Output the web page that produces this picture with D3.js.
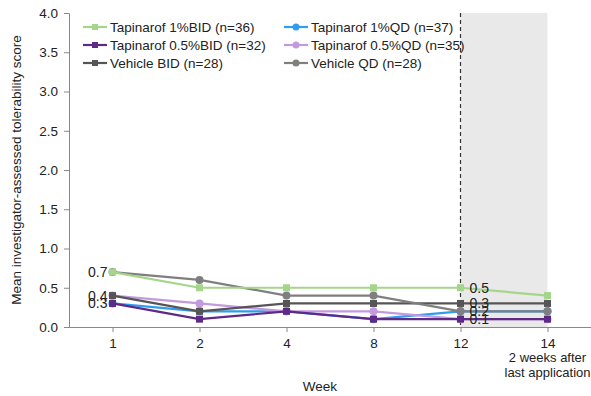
<!DOCTYPE html>
<html>
<head>
<meta charset="utf-8">
<script src="https://cdn.jsdelivr.net/npm/d3@7"></script>
<style>
  body { margin: 0; background: #fff; }
  text { font-family: "Liberation Sans", Arial, sans-serif; fill: #222; }
</style>
</head>
<body>
<div id="chart"></div>
<script>
// data
const weeks = ['1', '2', '4', '8', '12', '14'];
const seriesNames = ['Tapinarof 1%BID (n=36)', 'Tapinarof 1%QD (n=37)', 'Tapinarof 0.5%BID (n=32)',
  'Tapinarof 0.5%QD (n=35)', 'Vehicle BID (n=28)', 'Vehicle QD (n=28)'];
const tap1Bid = [0.7, 0.5, 0.5, 0.5, 0.5, 0.4];
const tap1Qd = [0.3, 0.2, 0.2, 0.1, 0.2, 0.2];
const tap05Bid = [0.3, 0.1, 0.2, 0.1, 0.1, 0.1];
const tap05Qd = [0.4, 0.3, 0.2, 0.2, 0.1, 0.1];
const vehBid = [0.4, 0.2, 0.3, 0.3, 0.3, 0.3];
const vehQd = [0.7, 0.6, 0.4, 0.4, 0.2, 0.2];
const yTicks = [0, 0.5, 1, 1.5, 2, 2.5, 3, 3.5, 4];
const leftLabels = [0.7, 0.4, 0.3];
const rightLabels = [0.5, 0.3, 0.2, 0.1];

const colors = ['#a5d58a', '#2f9cf0', '#5e2a86', '#c49ade', '#555555', '#7f7f7f'];
const shapes = ['square', 'circle', 'square', 'circle', 'square', 'circle'];
const values = [tap1Bid, tap1Qd, tap05Bid, tap05Qd, vehBid, vehQd];
// drawing order so that the layering looks like the original
const drawOrder = [1, 3, 2, 4, 5, 0];

const width = 591, height = 396;
const margin = { top: 13, right: 0, bottom: 69, left: 69 };
const graphWidth = width - margin.left - margin.right;
const graphHeight = height - margin.top - margin.bottom;

const svg = d3.select('#chart').append('svg')
  .attr('width', width)
  .attr('height', height);

const graph = svg.append('g')
  .attr('transform', `translate(${margin.left}, ${margin.top})`);

// scales
const x = d3.scalePoint().domain(weeks).range([0, graphWidth]).padding(0.5);
const y = d3.scaleLinear().domain([0, 4]).range([graphHeight, 0]);

// shaded follow-up area
graph.append('rect')
  .attr('x', x('12'))
  .attr('y', 0)
  .attr('width', x('14') - x('12'))
  .attr('height', graphHeight)
  .attr('fill', '#e9e9e9');

// axes
const yAxis = d3.axisLeft(y).tickValues(yTicks).tickSize(5).tickFormat(d3.format('.1f'));
const yAxisGroup = graph.append('g').call(yAxis);
yAxisGroup.select('.domain').attr('stroke', '#888');
yAxisGroup.selectAll('.tick line').attr('stroke', '#888');
yAxisGroup.selectAll('text').attr('font-size', 13.5).attr('fill', '#222').attr('x', -11);

const xAxis = d3.axisBottom(x).tickSize(5).tickSizeOuter(0);
const xAxisGroup = graph.append('g')
  .attr('transform', `translate(0, ${graphHeight})`)
  .call(xAxis);
xAxisGroup.select('.domain').attr('stroke', '#888');
xAxisGroup.selectAll('.tick line').attr('stroke', '#888');
xAxisGroup.selectAll('text').attr('font-size', 13.5).attr('fill', '#222').attr('y', 11);

// note under week 14
const note = graph.append('text')
  .attr('x', x('14'))
  .attr('y', graphHeight + 35)
  .attr('text-anchor', 'middle')
  .attr('font-size', 13);
note.append('tspan').attr('x', x('14')).attr('dy', 0).text('2 weeks after');
note.append('tspan').attr('x', x('14')).attr('dy', 15).text('last application');

// dashed line at end of treatment
graph.append('line')
  .attr('x1', x('12')).attr('x2', x('12'))
  .attr('y1', 0).attr('y2', graphHeight)
  .attr('stroke', '#333')
  .attr('stroke-width', 1.2)
  .attr('stroke-dasharray', '4,3');

// axis titles
svg.append('text')
  .attr('x', 320)
  .attr('y', 391)
  .attr('text-anchor', 'middle')
  .attr('font-size', 13.5)
  .text('Week');

svg.append('text')
  .attr('transform', `translate(21, ${margin.top + graphHeight / 2}) rotate(-90)`)
  .attr('text-anchor', 'middle')
  .attr('font-size', 13.5)
  .text('Mean investigator-assessed tolerability score');

// lines
const line = d3.line()
  .x((d, i) => x(weeks[i]))
  .y(d => y(d));

function drawMarker(g, shape, color, cx, cy, size) {
  if (shape === 'square') {
    g.append('rect')
      .attr('x', cx - size / 2).attr('y', cy - size / 2)
      .attr('width', size).attr('height', size)
      .attr('fill', color);
  } else {
    g.append('circle')
      .attr('cx', cx).attr('cy', cy)
      .attr('r', size / 2 + 0.5)
      .attr('fill', color);
  }
}

drawOrder.forEach(s => {
  graph.append('path')
    .datum(values[s])
    .attr('fill', 'none')
    .attr('stroke', colors[s])
    .attr('stroke-width', 2.2)
    .attr('d', line);
  const mg = graph.append('g');
  values[s].forEach((v, i) => drawMarker(mg, shapes[s], colors[s], x(weeks[i]), y(v), 7));
});

// value labels
graph.selectAll('.lbl-left')
  .data(leftLabels)
  .enter().append('text')
  .attr('x', x('1') - 5)
  .attr('y', d => y(d) + 5)
  .attr('text-anchor', 'end')
  .attr('font-size', 14)
  .text(d3.format('.1f'));

graph.selectAll('.lbl-right')
  .data(rightLabels)
  .enter().append('text')
  .attr('x', x('12') + 9)
  .attr('y', d => y(d) + 5)
  .attr('font-size', 14)
  .text(d3.format('.1f'));

// legend
const legendCols = [83, 284];
const legend = svg.append('g');
seriesNames.forEach((name, i) => {
  const lx = legendCols[i % 2];
  const ly = 27 + Math.floor(i / 2) * 18;
  const g = legend.append('g');
  g.append('line')
    .attr('x1', lx).attr('x2', lx + 24)
    .attr('y1', ly).attr('y2', ly)
    .attr('stroke', colors[i])
    .attr('stroke-width', 2.2);
  drawMarker(g, shapes[i], colors[i], lx + 12, ly, 6);
  g.append('text')
    .attr('x', lx + 27)
    .attr('y', ly + 5)
    .attr('font-size', 13.5)
    .text(name);
});
</script>
</body>
</html>
